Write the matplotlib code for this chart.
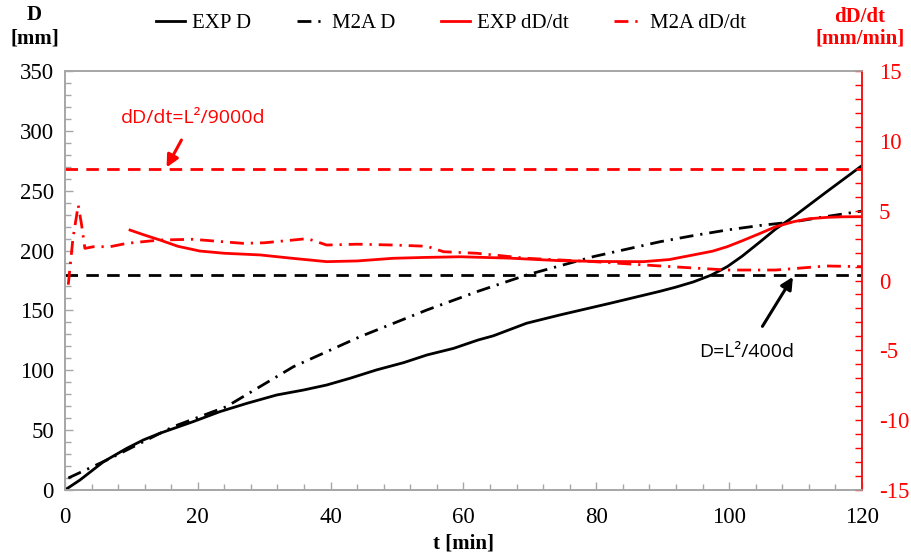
import matplotlib
matplotlib.use("Agg")
import matplotlib.pyplot as plt
from matplotlib.ticker import MultipleLocator

plt.rcParams["axes.unicode_minus"] = False

# Measured and modelled diameter D [mm]
t_exp_d = [0, 2.26, 5.8, 9.3, 11.8, 14.3, 19.3, 23.3, 27.4, 31.9, 35.9, 39.4, 42.9, 46.9,
           51, 54.5, 58.5, 62.2, 64.5, 69.5, 74.5, 82.1, 89.6, 92, 94.6, 97.3, 99.7, 102,
           104.7, 107, 109.7, 114.7, 120]
exp_d = [0, 8.35, 23.6, 34.8, 41.8, 47.4, 57.1, 65.4, 72.4, 79.4, 83.5, 87.7, 93.3, 100.3,
         106.4, 112.8, 118.3, 125.3, 128.8, 139.3, 146.2, 156, 166, 169.5, 173.8, 179.5,
         186.5, 195.5, 207.5, 218, 228.3, 249.2, 271]

t_m2a_d = [0.5, 6.3, 16.3, 24.3, 34.4, 44.4, 54.5, 62.2, 69.5, 79.6, 89.6, 94.6, 99.7,
           104.7, 109.7, 114.7, 120]
m2a_d = [10, 25, 52.9, 69.6, 103, 128, 150.4, 166, 179.6, 195, 207.4, 212.5, 217.2, 221,
         224, 228.5, 233]

# Growth rate dD/dt [mm/min]
t_exp_r = [9.8, 12, 14.3, 17, 20.3, 24, 29.4, 34, 39.4, 44, 49.4, 54, 59.5, 67, 74.5, 81,
           87.1, 91, 94.6, 97.5, 99.7, 102, 104.7, 107, 109.7, 112, 114.7, 117, 120]
exp_r = [3.61, 3.25, 2.9, 2.45, 2.11, 1.95, 1.83, 1.6, 1.35, 1.4, 1.59, 1.65, 1.70, 1.6,
         1.42, 1.36, 1.35, 1.5, 1.83, 2.1, 2.42, 2.85, 3.38, 3.85, 4.21, 4.42, 4.52, 4.56,
         4.57]

t_m2a_r = [0.5, 1.2, 2.0, 2.5, 3.0, 4.3, 6.8, 9.3, 14.3, 19.3, 26.8, 30, 34.4, 36.5, 39.4,
           44, 49.4, 54.5, 57, 62, 69.5, 79.6, 89.6, 99.7, 107, 114.7, 120]
m2a_r = [-0.3, 3.0, 5.4, 4.0, 2.3, 2.42, 2.42, 2.66, 2.9, 2.95, 2.66, 2.7, 2.9, 3.0, 2.54,
         2.6, 2.54, 2.45, 2.06, 1.95, 1.59, 1.35, 1.04, 0.75, 0.75, 1.04, 0.99]

# Reference limits
d_limit = 180      # D = L^2/400d [mm]
rate_limit = 8     # dD/dt = L^2/9000d [mm/min]
t_span = [0, 120]

serif = "Liberation Serif"
sans = "Open Sans"
red = "#ff0000"
gray = "#a6a6a6"

fig = plt.figure(figsize=(9.11, 5.56), dpi=100)
ax = fig.add_axes([0.0713, 0.1187, 0.8749, 0.7536])
ax2 = ax.twinx()

dashdot = (0, (5, 2.5, 0.8, 2.5))
dashed = (0, (4.5, 3))

l1, = ax.plot(t_exp_d, exp_d, color="black", lw=2.0, label="EXP D")
l2, = ax.plot(t_m2a_d, m2a_d, color="black", lw=2.0, linestyle=dashdot, label="M2A D")
ax.plot(t_span, [d_limit, d_limit], color="black", lw=2.0, linestyle=dashed)

l3, = ax2.plot(t_exp_r, exp_r, color=red, lw=2.0, label="EXP dD/dt")
l4, = ax2.plot(t_m2a_r, m2a_r, color=red, lw=2.0, linestyle=dashdot, label="M2A dD/dt")
ax2.plot(t_span, [rate_limit, rate_limit], color=red, lw=2.0, linestyle=dashed)

ax.set_xlim(0, 120)
ax.set_ylim(0, 350)
ax2.set_ylim(-15, 15)

ax.xaxis.set_major_locator(MultipleLocator(20))
ax.xaxis.set_minor_locator(MultipleLocator(4))
ax.yaxis.set_major_locator(MultipleLocator(50))
ax.yaxis.set_minor_locator(MultipleLocator(10))
ax2.yaxis.set_major_locator(MultipleLocator(5))
ax2.yaxis.set_minor_locator(MultipleLocator(1))

for a in (ax, ax2):
    for s in a.spines.values():
        s.set_color(gray)
        s.set_linewidth(1.2)
ax2.spines["right"].set_color(red)

ax.tick_params(axis="both", which="both", direction="in", colors=gray, labelcolor="black",
               labelsize=16.5, width=1)
ax.tick_params(axis="both", which="major", length=6)
ax.tick_params(axis="both", which="minor", length=4)
ax.tick_params(axis="x", pad=12)
ax.tick_params(axis="y", pad=8)
ax2.tick_params(axis="y", which="both", direction="in", colors=red, labelcolor=red,
                labelsize=16.5, width=1, length=5, pad=12)

for lab in ax.get_xticklabels() + ax.get_yticklabels() + ax2.get_yticklabels():
    lab.set_fontfamily(serif)

ax.set_xlabel("t [min]", fontfamily=serif, fontsize=15, fontweight="bold", labelpad=4)
fig.text(0.038, 0.973, "D", fontfamily=serif, fontsize=15, fontweight="bold",
         ha="center", va="center")
fig.text(0.038, 0.93, "[mm]", fontfamily=serif, fontsize=15, fontweight="bold",
         ha="center", va="center")
fig.text(0.944, 0.97, "dD/dt", fontfamily=serif, fontsize=15, fontweight="bold",
         color=red, ha="center", va="center")
fig.text(0.944, 0.93, "[mm/min]", fontfamily=serif, fontsize=15, fontweight="bold",
         color=red, ha="center", va="center")

fig.legend(handles=[l1, l2, l3, l4], loc="center", bbox_to_anchor=(0.495, 0.958), ncol=4,
           frameon=False, handlelength=1.4, handletextpad=0.3, columnspacing=2.2,
           prop={"family": serif, "size": 15})

ax2.annotate("dD/dt=L²/9000d", xy=(15.3, 8.1), xytext=(19.3, 11.6),
             color=red, fontsize=14, fontfamily=sans, ha="center", va="center",
             arrowprops=dict(arrowstyle="-|>", color=red, lw=2.2, mutation_scale=18,
                             shrinkA=8, shrinkB=0))
ax.annotate("D=L²/400d", xy=(109.6, 178), xytext=(102.6, 115),
            color="black", fontsize=14, fontfamily=sans, ha="center", va="center",
            arrowprops=dict(arrowstyle="-|>", color="black", lw=2.2, mutation_scale=18,
                            shrinkA=12, shrinkB=0))

fig.savefig("out.png", dpi=100)
